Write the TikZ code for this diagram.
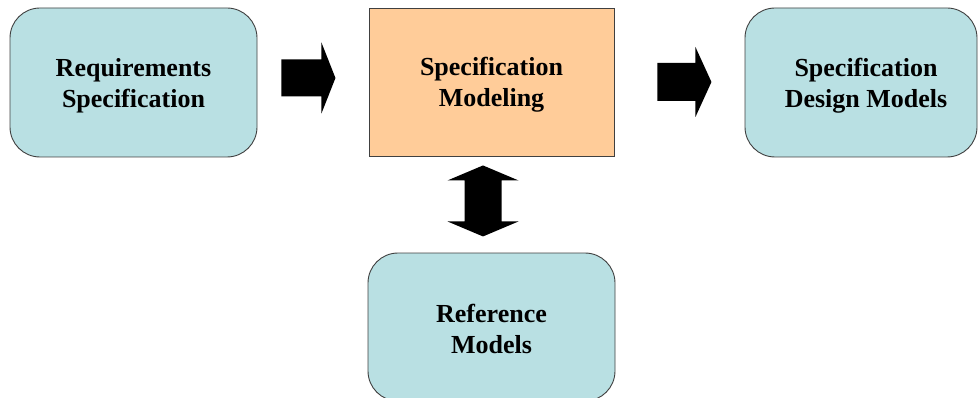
\documentclass[tikz,border=0pt]{standalone}
\usepackage{fontspec}
\setmainfont{Liberation Serif}
\usetikzlibrary{calc}
\definecolor{boxblue}{RGB}{185,224,227}
\definecolor{boxorange}{RGB}{255,204,153}
\definecolor{boxline}{RGB}{64,64,64}
\tikzset{
  base box/.style={draw=boxline, line width=0.9pt, inner sep=0pt},
  model box/.style={base box, fill=boxblue, rounded corners=30pt},
  work box/.style={base box, fill=boxorange},
  caption/.style={inner sep=0pt, align=center,
    font=\bfseries\fontsize{26}{31}\selectfont},
  block arrow/.style={fill=black, draw=none},
}
\begin{document}
\begin{tikzpicture}[x=1pt, y=-1pt]
\useasboundingbox (0,0) rectangle (979,398);

% boxes
\node[model box, minimum width=247pt, minimum height=149pt] (req) at (133.5,82.5) {};
\node[work box, minimum width=245pt, minimum height=148pt] (spec) at (491.5,82) {};
\node[model box, minimum width=232pt, minimum height=149pt] (design) at (861,82.5) {};
\node[model box, minimum width=247pt, minimum height=148pt] (ref) at (491.5,327) {};

% box captions
\node[caption] (req text)    at ($(req.center)+(0,3.5)$)    {Requirements\\Specification};
\node[caption] (spec text)   at ($(spec.center)+(0,3)$)     {Specification\\Modeling};
\node[caption] (design text) at ($(design.center)+(5,3.5)$) {Specification\\Design Models};
\node[caption] (ref text)    at ($(ref.center)+(0,2)$)      {Reference\\Models};

% block arrow: requirements -> modeling
\coordinate (a1) at ($(req.east)+(24,-4.5)$);
\fill[block arrow] (a1) ++(0,-18.5) -- ++(40,0) -- ++(0,-17) -- ++(14,35.5)
  -- ++(-14,35.5) -- ++(0,-17) -- ++(-40,0) -- cycle;

% block arrow: modeling -> design models
\coordinate (a2) at ($(spec.east)+(43,0)$);
\fill[block arrow] (a2) ++(0,-19) -- ++(38,0) -- ++(0,-16) -- ++(16,35)
  -- ++(-16,35) -- ++(0,-16) -- ++(-38,0) -- cycle;

% double block arrow: modeling <-> reference models
\coordinate (a3) at ($(spec.south)+(-8.5,9)$);
\fill[block arrow] (a3) -- ++(35.5,15) -- ++(-17,0) -- ++(0,41) -- ++(17,0)
  -- ++(-35.5,15) -- ++(-35.5,-15) -- ++(17,0) -- ++(0,-41) -- ++(-17,0) -- cycle;
\end{tikzpicture}
\end{document}
